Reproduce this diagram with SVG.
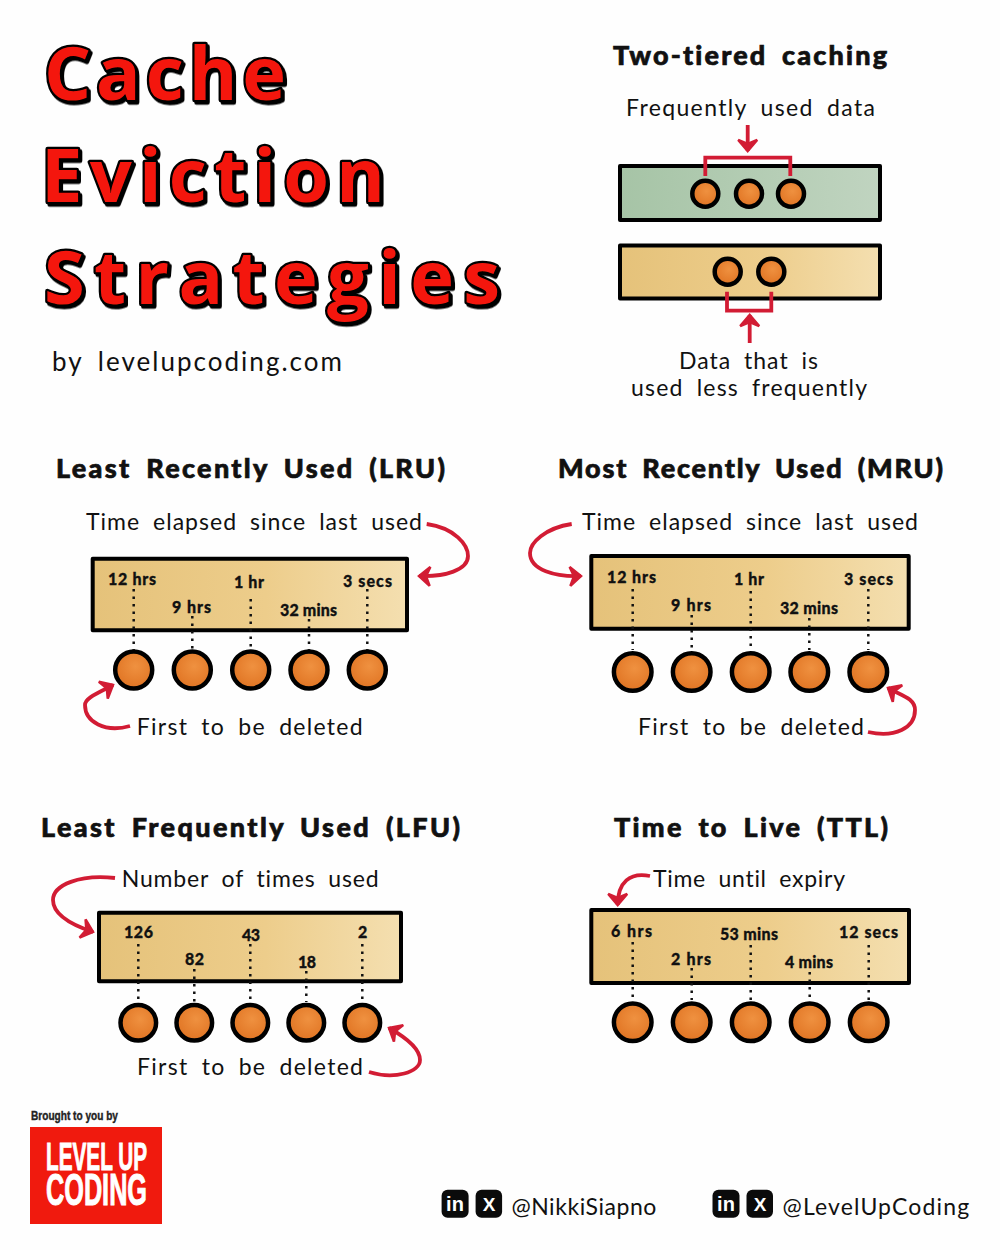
<svg xmlns="http://www.w3.org/2000/svg" width="1000" height="1250" viewBox="0 0 1000 1250">
<style>
text{font-family:"Lato","Noto Sans","Liberation Sans",sans-serif;fill:#111;font-variant-ligatures:none}
.title{font-family:"Open Sans","DejaVu Sans",sans-serif;font-size:74px;font-weight:700;fill:#f4170d;stroke:#000;stroke-width:4.5px;stroke-linejoin:round;paint-order:stroke;filter:url(#shadow)}
.head{font-size:27px;font-weight:900;stroke:#111;stroke-width:.7px;word-spacing:6px}
.hand{font-size:23px;font-weight:400;word-spacing:6px;transform:translateY(1px)}
.val{font-size:16px;font-weight:900;stroke:#111;stroke-width:.3px}
.box{stroke:#000;stroke-width:4;stroke-linejoin:round}
.yellow{fill:url(#yellow)}
.green{fill:url(#green)}
.ball{fill:url(#orange);stroke:#000;stroke-width:4.5}
.dot{stroke:#111;stroke-width:2.5;stroke-dasharray:2.5 5;fill:none}
.red{stroke:#d21c34;stroke-width:3.8;fill:none}
.arrow{marker-end:url(#head)}
.brand{font-family:"Liberation Sans",sans-serif;font-weight:700}
.heavy{stroke:#fff;stroke-width:1px}
.icon{fill:#0b0b0b}
.icontext{font-family:"Liberation Sans",sans-serif;font-weight:700;fill:#fff}
</style>
<defs>
<filter id="shadow" x="-5%" y="-5%" width="110%" height="115%"><feDropShadow dx="2" dy="2.5" stdDeviation="0" flood-color="#000"/></filter>
<linearGradient id="yellow" x1="0" x2="1" y1="0" y2="0"><stop offset="0" stop-color="#e5c27a"/><stop offset="0.55" stop-color="#edcd8b"/><stop offset="1" stop-color="#f4dfb0"/></linearGradient>
<linearGradient id="green" x1="0" x2="1" y1="0" y2="0"><stop offset="0" stop-color="#a6c4a6"/><stop offset="1" stop-color="#c0d4c0"/></linearGradient>
<radialGradient id="orange" cx="0.55" cy="0.4" r="0.7"><stop offset="0" stop-color="#ef9140"/><stop offset="1" stop-color="#de701f"/></radialGradient>
<marker id="head" markerUnits="userSpaceOnUse" markerWidth="18" markerHeight="28" viewBox="-14 -14 18 28" refX="0" refY="0" orient="auto"><path d="M-11,-9.500 L0,0 L-11,9.500 L-7,0 Z" fill="#d21c34" stroke="#d21c34" stroke-width="2.500" stroke-linejoin="miter"/></marker>
</defs>
<rect width="1000" height="1250" fill="#fefefe"/>

<g id="title">
<text class="title" x="44" y="100" textLength="242">Cache</text>
<text class="title" x="41" y="202" textLength="344">Eviction</text>
<text class="title" x="44" y="304" textLength="456">Strategies</text>
<text class="hand" style="font-size:26px" x="52" y="370" textLength="290">by levelupcoding.com</text>
</g>

<g id="two-tiered">
<text class="head" x="613" y="65" textLength="274">Two-tiered caching</text>
<text class="hand" x="626" y="115" textLength="249">Frequently used data</text>
<g id="tier-green"><rect class="box green" x="620" y="166" width="260" height="54"/>
<circle class="ball" cx="705.3" cy="193.7" r="13"/><circle class="ball" cx="749" cy="193.7" r="13"/><circle class="ball" cx="791" cy="193.7" r="13"/></g>
<g id="tier-yellow"><rect class="box yellow" x="620" y="245.5" width="260" height="53"/>
<circle class="ball" cx="727.7" cy="271.7" r="13"/><circle class="ball" cx="771.3" cy="271.7" r="13"/></g>
<text class="hand" x="679" y="368" textLength="139">Data that is</text>
<text class="hand" x="631" y="395" textLength="236">used less frequently</text>
</g>

<g id="lru">
<text class="head" x="56" y="478" textLength="389">Least Recently Used (LRU)</text>
<text class="hand" x="86" y="529" textLength="336">Time elapsed since last used</text>
<rect class="box yellow" x="92.7" y="558.7" width="314.3" height="71.6"/>
<text class="val" x="108" y="585" textLength="48">12 hrs</text>
<text class="val" x="172" y="612.5" textLength="39">9 hrs</text>
<text class="val" x="234" y="588" textLength="30">1 hr</text>
<text class="val" x="280" y="615.5" textLength="57">32 mins</text>
<text class="val" x="343" y="586.5" textLength="49">3 secs</text>
<circle class="ball" cx="133.7" cy="670" r="18.5"/><circle class="ball" cx="192.3" cy="670" r="18.5"/><circle class="ball" cx="250.7" cy="670" r="18.5"/><circle class="ball" cx="309" cy="670" r="18.5"/><circle class="ball" cx="367.3" cy="670" r="18.5"/>
<text class="hand" x="136.7" y="734" textLength="226">First to be deleted</text>
</g>

<g id="mru">
<text class="head" x="558" y="478" textLength="385">Most Recently Used (MRU)</text>
<text class="hand" x="582" y="529" textLength="336">Time elapsed since last used</text>
<rect class="box yellow" x="591.3" y="556" width="317.4" height="72.7"/>
<text class="val" x="607" y="583" textLength="49">12 hrs</text>
<text class="val" x="671" y="611" textLength="40">9 hrs</text>
<text class="val" x="734" y="585" textLength="30">1 hr</text>
<text class="val" x="780" y="614" textLength="58">32 mins</text>
<text class="val" x="844" y="585" textLength="49">3 secs</text>
<circle class="ball" cx="632.7" cy="672" r="18.8"/><circle class="ball" cx="691.7" cy="672" r="18.8"/><circle class="ball" cx="750.7" cy="672" r="18.8"/><circle class="ball" cx="809.3" cy="672" r="18.8"/><circle class="ball" cx="868.3" cy="672" r="18.8"/>
<text class="hand" x="638" y="734" textLength="226">First to be deleted</text>
</g>

<g id="lfu">
<text class="head" x="41" y="837" textLength="419">Least Frequently Used (LFU)</text>
<text class="hand" x="121.7" y="886" textLength="257">Number of times used</text>
<rect class="box yellow" x="99" y="912.7" width="302" height="68.6"/>
<text class="val" x="124" y="938" textLength="29">126</text>
<text class="val" x="185" y="965" textLength="19">82</text>
<text class="val" x="242" y="941" textLength="18">43</text>
<text class="val" x="298" y="967.5" textLength="18">18</text>
<text class="val" x="358" y="938">2</text>
<circle class="ball" cx="138.3" cy="1022.7" r="17.8"/><circle class="ball" cx="194.3" cy="1022.7" r="17.8"/><circle class="ball" cx="250.3" cy="1022.7" r="17.8"/><circle class="ball" cx="306.3" cy="1022.7" r="17.8"/><circle class="ball" cx="362.3" cy="1022.7" r="17.8"/>
<text class="hand" x="137" y="1074" textLength="226">First to be deleted</text>
</g>

<g id="ttl">
<text class="head" x="614" y="837" textLength="274">Time to Live (TTL)</text>
<text class="hand" x="653" y="886" textLength="192">Time until expiry</text>
<rect class="box yellow" x="591.3" y="910" width="317.7" height="73"/>
<text class="val" x="611" y="936.5" textLength="41">6 hrs</text>
<text class="val" x="671" y="965" textLength="40">2 hrs</text>
<text class="val" x="720" y="940" textLength="58">53 mins</text>
<text class="val" x="785" y="968" textLength="48">4 mins</text>
<text class="val" x="839" y="938" textLength="59">12 secs</text>
<circle class="ball" cx="632.7" cy="1022.3" r="18.8"/><circle class="ball" cx="691.7" cy="1022.3" r="18.8"/><circle class="ball" cx="750.7" cy="1022.3" r="18.8"/><circle class="ball" cx="809.7" cy="1022.3" r="18.8"/><circle class="ball" cx="868.7" cy="1022.3" r="18.8"/>
</g>

<g id="connectors">
<path class="red arrow" d="M747.7 125V151"/>
<path class="red" d="M705.3 176V157.7H790.3V176"/>
<path class="red" d="M727 291.7V310.7H771.3V291.7"/>
<path class="red arrow" d="M749.7 343V315"/>
<path class="red arrow" d="M426.7 524C455 528 468 545 468 556C468 570 445 577 419 576"/>
<path class="red arrow" d="M130 726C105 733 85 722 85 705C85 698 98 693 113 685"/>
<path class="red arrow" d="M571.7 524C545 528 530 543 530 553C530 570 555 577 581 576"/>
<path class="red arrow" d="M868 732C895 738 915 728 915 710C915 698 901 695.500 888 688"/>
<path class="red arrow" d="M115 878C80 874 53 885 53 900C53 915 72 925 93 932"/>
<path class="red arrow" d="M369 1072C395 1080 420 1072 420 1060C420 1048 405 1037 389 1028"/>
<path class="red arrow" d="M650 876C630 872 617.700 882 617.700 905"/>
<path class="dot" d="M133.700 589V650M192.300 616V650M250.700 599V650M309 619V650M367.300 589V650"/>
<path class="dot" d="M632.700 589V650M691.700 615V650M750.700 591V650M809.300 618V650M868.300 589V650"/>
<path class="dot" d="M138.300 944V1002M194.300 969V1002M250.300 944V1002M306.300 971V1002M362.300 944V1002"/>
<path class="dot" d="M632.700 942V1000M691.700 968V1000M750.700 945V1000M809.700 972V1000M868.700 945V1000"/>
</g>

<g id="logo">
<text class="brand" style="font-size:13px;fill:#222;stroke:#222;stroke-width:.4px" x="31" y="1120" textLength="87" lengthAdjust="spacingAndGlyphs">Brought to you by</text>
<rect x="30" y="1127" width="132" height="97" fill="#f01a0e"/>
<text class="brand heavy" style="fill:#fff"><tspan style="font-size:38px" x="46" y="1170" textLength="101" lengthAdjust="spacingAndGlyphs">LEVEL UP</tspan><tspan style="font-size:44px" x="46" y="1205" textLength="101" lengthAdjust="spacingAndGlyphs">CODING</tspan></text>
</g>

<g id="social-nikki">
<rect class="icon" x="441.600" y="1189.700" width="27" height="28" rx="6"/><text class="icontext" style="font-size:20px" x="455" y="1211" text-anchor="middle">in</text>
<rect class="icon" x="475.600" y="1189.700" width="26.500" height="28" rx="6"/><text class="icontext" style="font-size:19px" x="489" y="1210.500" text-anchor="middle">X</text>
<text class="hand" style="word-spacing:0" x="511.400" y="1213.500" textLength="145">@NikkiSiapno</text>
</g>
<g id="social-levelup">
<rect class="icon" x="712.500" y="1189.700" width="27" height="28" rx="6"/><text class="icontext" style="font-size:20px" x="726" y="1211" text-anchor="middle">in</text>
<rect class="icon" x="746.500" y="1189.700" width="26.500" height="28" rx="6"/><text class="icontext" style="font-size:19px" x="760" y="1210.500" text-anchor="middle">X</text>
<text class="hand" style="word-spacing:0" x="782.600" y="1213.500" textLength="186.500">@LevelUpCoding</text>
</g>
</svg>
